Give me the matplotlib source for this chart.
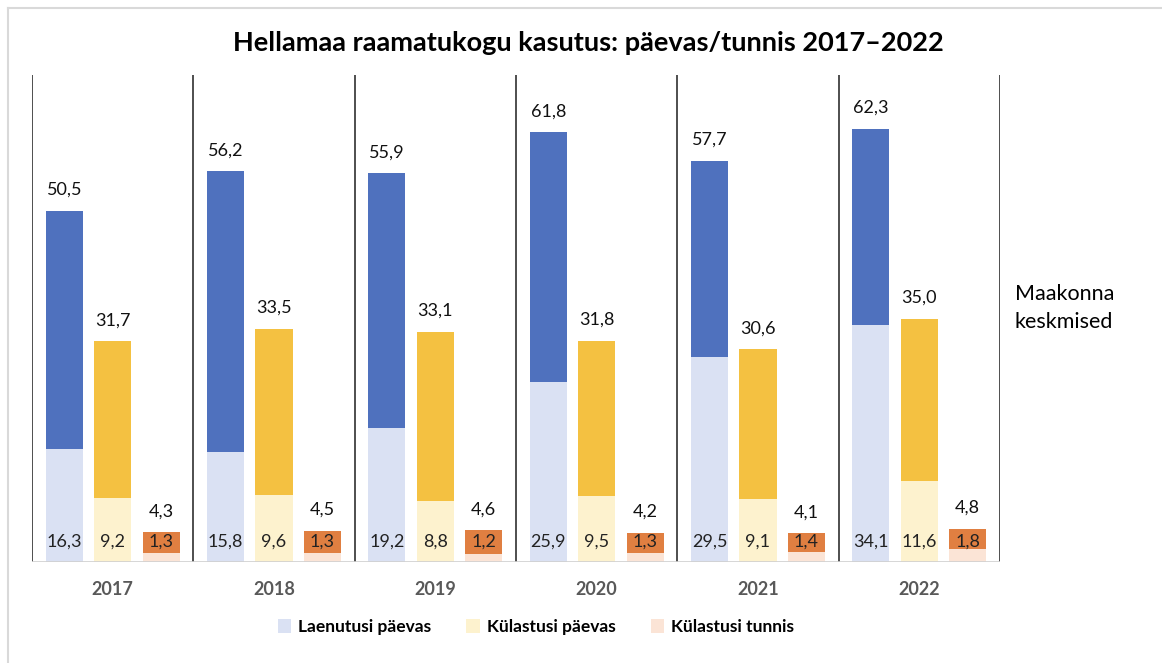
import matplotlib.pyplot as plt
from matplotlib.patches import Patch
from matplotlib.lines import Line2D

plt.rcParams['font.family'] = ['Lato', 'DejaVu Sans']

years = ["2017", "2018", "2019", "2020", "2021", "2022"]

# maakonna keskmised
avg_loans = [50.5, 56.2, 55.9, 61.8, 57.7, 62.3]
avg_visits = [31.7, 33.5, 33.1, 31.8, 30.6, 35.0]
avg_hour = [4.3, 4.5, 4.6, 4.2, 4.1, 4.8]

# Hellamaa
loans = [16.3, 15.8, 19.2, 25.9, 29.5, 34.1]
visits = [9.2, 9.6, 8.8, 9.5, 9.1, 11.6]
hour = [1.3, 1.3, 1.2, 1.3, 1.4, 1.8]

legend_labels = ["Laenutusi päevas", "Külastusi päevas", "Külastusi tunnis"]

dark = ["#4F71BE", "#F4C141", "#E07F41"]
light = ["#DAE1F3", "#FDF2CE", "#FBE4D6"]


def fmt(v):
    return f"{v:.1f}".replace(".", ",")


fig = plt.figure(figsize=(11.62, 6.63), dpi=100)
ax = fig.add_axes([32 / 1162, 101 / 663, 968 / 1162, 487 / 663])

offsets = [0.20, 0.50, 0.80]
width = 0.23
series_avg = [avg_loans, avg_visits, avg_hour]
series = [loans, visits, hour]

for k in range(3):
    xs = [i + offsets[k] for i in range(len(years))]
    ax.bar(xs, series_avg[k], width, color=dark[k], zorder=2)
    ax.bar(xs, series[k], width, color=light[k], zorder=3)
    for x, a, v in zip(xs, series_avg[k], series[k]):
        ax.text(x, a + 3.0, fmt(a), ha="center", va="center", fontsize=13, color="#111111", zorder=4)
        ax.text(x, 3.0, fmt(v), ha="center", va="center", fontsize=13, color="#222222", zorder=4)

for i in range(len(years) + 1):
    ax.axvline(i, color="#404040", lw=1.3, zorder=1)

ax.axhline(0, color="#D0D0D0", lw=1.2, zorder=5)

ax.set_xlim(0, len(years))
ax.set_ylim(0, 70)
ax.set_xticks([i + 0.5 for i in range(len(years))])
ax.set_xticklabels(years, fontsize=13, fontweight="bold", color="#595959")
ax.tick_params(axis="x", length=0, pad=14)
ax.set_yticks([])
for s in ax.spines.values():
    s.set_visible(False)

fig.text(588 / 1162, 1 - 43 / 663, "Hellamaa raamatukogu kasutus: päevas/tunnis 2017–2022",
         ha="center", va="center", fontsize=19.5, fontweight="bold")
fig.text(1015 / 1162, 1 - 308 / 663, "Maakonna\nkeskmised", ha="left", va="center",
         fontsize=15.5, linespacing=1.55)

handles = [Patch(facecolor=c, edgecolor="none") for c in light]
fig.legend(handles, legend_labels, loc="center", bbox_to_anchor=(536 / 1162, 1 - 627 / 663),
           ncol=3, frameon=False, handlelength=0.8, handleheight=0.8, handletextpad=0.4,
           columnspacing=2.0, prop={"size": 12.5, "weight": "bold"})

# rahm
fig.add_artist(Line2D([8 / 1162, 1], [1 - 8 / 663, 1 - 8 / 663], transform=fig.transFigure,
                      color="#D9D9D9", lw=1.5))
fig.add_artist(Line2D([8 / 1162, 8 / 1162], [0, 1 - 8 / 663], transform=fig.transFigure,
                      color="#D9D9D9", lw=1.5))

fig.savefig("out.png", dpi=100)
